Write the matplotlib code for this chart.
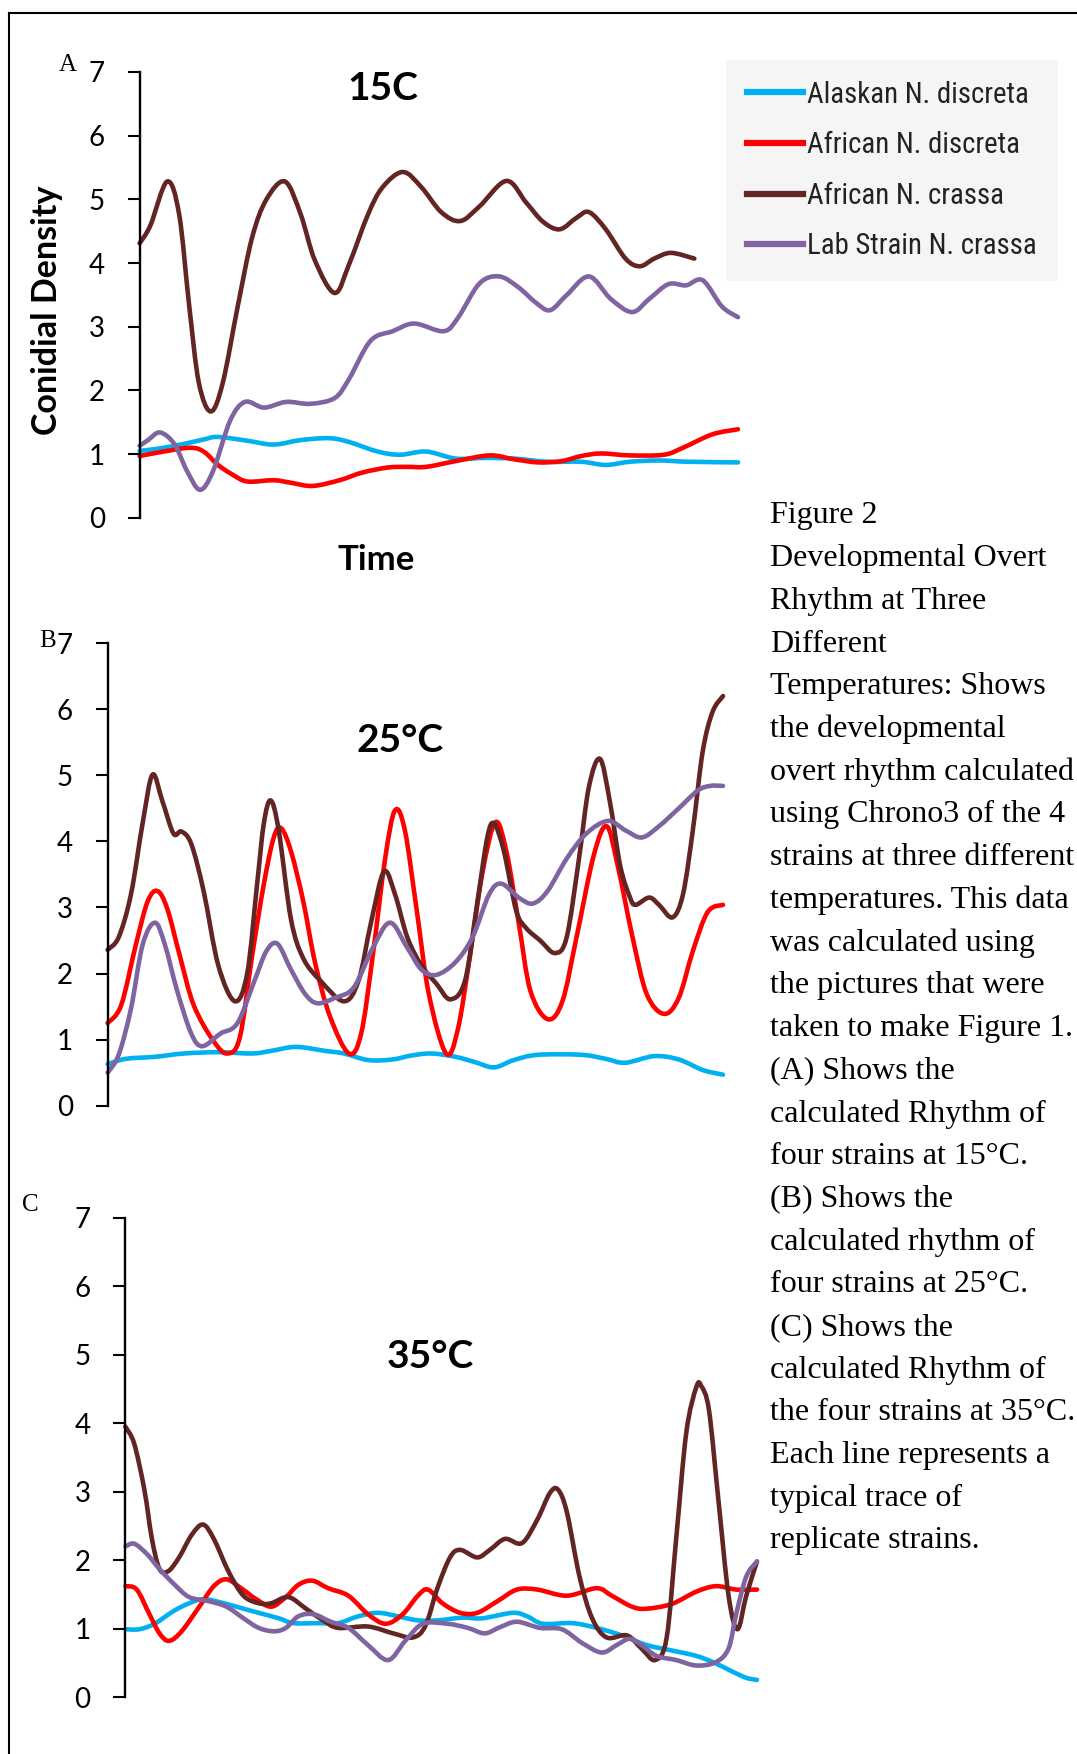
import matplotlib
matplotlib.use('Agg')
import matplotlib.pyplot as plt
from matplotlib import font_manager
from matplotlib.font_manager import FontProperties
from matplotlib.lines import Line2D
from matplotlib.path import Path
from matplotlib.patches import PathPatch
from matplotlib.textpath import TextPath

W, H = 1077, 1754

strains = ['Alaskan N. discreta', 'African N. discreta',
           'African N. crassa', 'Lab Strain N. crassa']
colors = ['#00b0f0', '#ff0000', '#632523', '#8064a2']
titles = ['15C', '25°C', '35°C']
letters = ['A', 'B', 'C']
yticks = [0, 1, 2, 3, 4, 5, 6, 7]

# (time fraction, conidial density)
# --- 15C ---
A_alaskan = [(0, 1.05), (.034, 1.09), (.074, 1.16), (.107, 1.23), (.131, 1.27), (.18, 1.21),
             (.224, 1.15), (.269, 1.22), (.317, 1.25), (.35, 1.19), (.398, 1.04), (.435, 0.99),
             (.479, 1.04), (.528, 0.93), (.577, 0.94), (.625, 0.93), (.682, 0.88), (.738, 0.88),
             (.779, 0.83), (.819, 0.88), (.868, 0.90), (.917, 0.88), (1.0, 0.87)]
A_african_d = [(0, 0.97), (.034, 1.03), (.083, 1.10), (.107, 1.04), (.131, 0.83), (.155, 0.68),
               (.18, 0.57), (.224, 0.59), (.253, 0.55), (.289, 0.50), (.334, 0.59), (.372, 0.71),
               (.415, 0.79), (.447, 0.80), (.479, 0.80), (.528, 0.89), (.585, 0.98), (.625, 0.92),
               (.666, 0.87), (.705, 0.89), (.738, 0.97), (.771, 1.01), (.819, 0.98), (.876, 0.99),
               (.908, 1.10), (.957, 1.31), (1.0, 1.39)]
A_african_c = [(0, 4.31), (.018, 4.59), (.046, 5.28), (.066, 4.77), (.083, 3.32), (.099, 2.12),
               (.119, 1.67), (.139, 2.12), (.164, 3.32), (.188, 4.40), (.212, 5.0), (.243, 5.28),
               (.269, 4.77), (.293, 4.04), (.326, 3.53), (.35, 3.98), (.382, 4.77), (.406, 5.19),
               (.44, 5.43), (.471, 5.19), (.504, 4.80), (.536, 4.66), (.568, 4.89), (.613, 5.29),
               (.646, 4.95), (.674, 4.65), (.702, 4.53), (.73, 4.71), (.751, 4.80), (.779, 4.53),
               (.812, 4.07), (.836, 3.95), (.86, 4.07), (.888, 4.16), (.927, 4.07)]
A_lab = [(0, 1.13), (.014, 1.22), (.034, 1.34), (.058, 1.16), (.079, 0.74), (.101, 0.44),
         (.123, 0.74), (.151, 1.52), (.176, 1.82), (.208, 1.73), (.245, 1.82), (.285, 1.79),
         (.326, 1.88), (.35, 2.18), (.386, 2.78), (.423, 2.93), (.459, 3.05), (.508, 2.93),
         (.532, 3.14), (.568, 3.68), (.601, 3.79), (.633, 3.62), (.662, 3.38), (.686, 3.26),
         (.714, 3.50), (.751, 3.79), (.787, 3.44), (.823, 3.23), (.852, 3.44), (.884, 3.67),
         (.913, 3.65), (.941, 3.73), (.973, 3.32), (1.0, 3.15)]
# --- 25C ---
B_alaskan = [(0, 0.63), (.03, 0.71), (.077, 0.74), (.124, 0.79), (.18, 0.81), (.235, 0.79),
             (.266, 0.83), (.306, 0.89), (.353, 0.83), (.384, 0.79), (.424, 0.69), (.463, 0.70),
             (.494, 0.76), (.526, 0.79), (.565, 0.74), (.597, 0.66), (.628, 0.58), (.66, 0.69),
             (.699, 0.77), (.77, 0.77), (.809, 0.71), (.841, 0.65), (.888, 0.75), (.928, 0.70),
             (.967, 0.54), (1.0, 0.47)]
B_african_d = [(0, 1.25), (.022, 1.52), (.046, 2.44), (.065, 3.09), (.081, 3.25), (.097, 2.98),
               (.117, 2.28), (.14, 1.52), (.172, 0.98), (.195, 0.79), (.215, 1.04), (.235, 2.28),
               (.254, 3.36), (.27, 4.06), (.282, 4.2), (.298, 3.85), (.318, 3.09), (.337, 2.17),
               (.361, 1.36), (.392, 0.79), (.412, 1.09), (.431, 2.28), (.451, 3.74), (.467, 4.47),
               (.483, 4.17), (.502, 2.98), (.522, 1.69), (.55, 0.79), (.569, 1.15), (.589, 2.28),
               (.609, 3.52), (.63, 4.29), (.648, 3.85), (.668, 2.77), (.687, 1.74), (.715, 1.31),
               (.739, 1.58), (.762, 2.55), (.79, 3.79), (.811, 4.23), (.829, 3.63), (.853, 2.55),
               (.876, 1.69), (.904, 1.39), (.928, 1.63), (.951, 2.34), (.975, 2.93), (1.0, 3.04)]
B_african_c = [(0, 2.36), (.018, 2.55), (.038, 3.2), (.057, 4.28), (.073, 5.01), (.089, 4.61),
               (.107, 4.12), (.12, 4.15), (.136, 3.96), (.156, 3.25), (.18, 2.12), (.207, 1.58),
               (.227, 2.01), (.243, 3.36), (.254, 4.28), (.265, 4.62), (.278, 4.17), (.298, 2.82),
               (.318, 2.23), (.345, 1.90), (.384, 1.58), (.408, 1.90), (.428, 2.77), (.449, 3.54),
               (.467, 3.2), (.487, 2.55), (.51, 2.12), (.534, 1.85), (.557, 1.61), (.581, 1.90),
               (.601, 3.09), (.617, 4.06), (.628, 4.27), (.644, 3.85), (.664, 2.95), (.68, 2.69),
               (.703, 2.50), (.727, 2.31), (.746, 2.55), (.766, 3.74), (.782, 4.82), (.8, 5.25),
               (.816, 4.61), (.833, 3.63), (.849, 3.15), (.858, 3.04), (.88, 3.15), (.896, 3.04),
               (.918, 2.85), (.935, 3.2), (.951, 4.17), (.967, 5.36), (.983, 5.96), (1.0, 6.2)]
B_lab = [(0, 0.50), (.018, 0.77), (.038, 1.47), (.057, 2.44), (.077, 2.77), (.093, 2.44),
         (.113, 1.74), (.136, 1.09), (.154, 0.90), (.183, 1.09), (.211, 1.25), (.239, 1.9),
         (.258, 2.34), (.276, 2.45), (.298, 2.06), (.321, 1.69), (.341, 1.55), (.369, 1.63),
         (.4, 1.79), (.431, 2.39), (.459, 2.77), (.487, 2.39), (.51, 2.06), (.534, 1.98),
         (.565, 2.17), (.593, 2.55), (.62, 3.2), (.64, 3.36), (.668, 3.15), (.691, 3.06),
         (.715, 3.25), (.746, 3.74), (.778, 4.12), (.813, 4.31), (.841, 4.17), (.868, 4.06),
         (.896, 4.23), (.928, 4.5), (.959, 4.77), (.979, 4.84), (1.0, 4.84)]
# --- 35C ---
C_alaskan = [(0, 0.99), (.022, 0.99), (.046, 1.07), (.077, 1.26), (.101, 1.37), (.124, 1.43),
             (.156, 1.37), (.187, 1.29), (.211, 1.23), (.243, 1.15), (.266, 1.08), (.306, 1.08),
             (.337, 1.08), (.369, 1.18), (.4, 1.23), (.431, 1.18), (.463, 1.12), (.494, 1.12),
             (.534, 1.16), (.565, 1.15), (.613, 1.23), (.636, 1.18), (.661, 1.07), (.707, 1.08),
             (.746, 1.01), (.786, 0.90), (.825, 0.76), (.865, 0.68), (.904, 0.60), (.935, 0.49),
             (.959, 0.38), (.983, 0.28), (1.0, 0.25)]
C_african_d = [(0, 1.62), (.018, 1.57), (.038, 1.21), (.054, 0.93), (.069, 0.82), (.089, 0.96),
               (.117, 1.32), (.14, 1.62), (.16, 1.72), (.183, 1.59), (.207, 1.43), (.231, 1.32),
               (.254, 1.46), (.274, 1.64), (.296, 1.70), (.321, 1.59), (.353, 1.48), (.384, 1.21),
               (.412, 1.07), (.439, 1.21), (.463, 1.48), (.479, 1.57), (.502, 1.37), (.53, 1.23),
               (.557, 1.23), (.589, 1.40), (.62, 1.57), (.652, 1.57), (.699, 1.48), (.746, 1.59),
               (.77, 1.48), (.802, 1.32), (.825, 1.29), (.865, 1.36), (.904, 1.54), (.935, 1.62),
               (.967, 1.57), (1.0, 1.57)]
C_african_c = [(0, 3.95), (.014, 3.70), (.03, 3.03), (.042, 2.31), (.054, 1.87), (.068, 1.84),
               (.085, 2.04), (.105, 2.37), (.123, 2.52), (.14, 2.31), (.164, 1.82), (.187, 1.48),
               (.211, 1.37), (.231, 1.37), (.258, 1.46), (.286, 1.29), (.313, 1.12), (.337, 1.01),
               (.384, 1.03), (.424, 0.93), (.455, 0.87), (.475, 1.04), (.494, 1.59), (.514, 2.04),
               (.53, 2.15), (.557, 2.04), (.577, 2.15), (.601, 2.31), (.628, 2.25), (.652, 2.59),
               (.672, 2.98), (.685, 3.03), (.699, 2.70), (.719, 1.76), (.739, 1.15), (.762, 0.87),
               (.794, 0.90), (.817, 0.71), (.839, 0.54), (.857, 0.87), (.872, 2.31), (.888, 3.86),
               (.904, 4.53), (.912, 4.54), (.924, 4.19), (.939, 2.87), (.955, 1.48), (.969, 0.99),
               (.983, 1.48), (1.0, 1.98)]
C_lab = [(0, 2.20), (.014, 2.24), (.034, 2.09), (.054, 1.87), (.077, 1.65), (.101, 1.46),
         (.132, 1.40), (.16, 1.32), (.187, 1.15), (.211, 1.01), (.235, 0.96), (.254, 1.01),
         (.274, 1.18), (.298, 1.21), (.325, 1.10), (.353, 1.01), (.384, 0.76), (.416, 0.54),
         (.443, 0.82), (.471, 1.07), (.51, 1.07), (.542, 1.01), (.569, 0.93), (.593, 1.02),
         (.62, 1.10), (.656, 1.01), (.691, 0.99), (.723, 0.79), (.754, 0.65), (.778, 0.76),
         (.798, 0.85), (.817, 0.76), (.841, 0.60), (.872, 0.54), (.904, 0.46), (.935, 0.51),
         (.955, 0.71), (.967, 1.21), (.983, 1.76), (1.0, 1.98)]

panels = [
    [A_alaskan, A_african_d, A_african_c, A_lab],
    [B_alaskan, B_african_d, B_african_c, B_lab],
    [C_alaskan, C_african_d, C_african_c, C_lab],
]

caption = ['Figure 2', 'Developmental Overt', 'Rhythm at Three', 'Different',
           'Temperatures: Shows', 'the developmental', 'overt rhythm calculated',
           'using Chrono3 of the 4', 'strains at three different',
           'temperatures. This data', 'was calculated using', 'the pictures that were',
           'taken to make Figure 1.', '(A) Shows the', 'calculated Rhythm of',
           'four strains at 15°C.', '(B) Shows the', 'calculated rhythm of',
           'four strains at 25°C.', '(C) Shows the', 'calculated Rhythm of',
           'the four strains at 35°C.', 'Each line represents a', 'typical trace of',
           'replicate strains.']

# pixel layout: axis x-left, x-right, y of 0, y of 7
boxes = [(139.6, 738, 517.8, 72), (107.6, 723, 1105.7, 643.2), (125.4, 757, 1697, 1218)]
title_pos = [(383, 88), (400, 741), (430, 1357)]
letter_pos = [(68, 65), (48, 641), (30, 1205)]

names = {f.name for f in font_manager.fontManager.ttflist}
sans = 'Lato' if 'Lato' in names else 'DejaVu Sans'
plt.rcParams['font.family'] = [sans, 'DejaVu Sans']

# legend font: narrowest available, sized so the first label is ~219 px wide
leg_font = 'Liberation Sans'
for cand in ['Roboto Condensed', 'Liberation Sans Narrow', 'Ubuntu Condensed', 'Roboto']:
    if cand in names:
        leg_font = cand
        break
tp = TextPath((0, 0), strains[0], size=10, prop=FontProperties(family=leg_font))
leg_size = min(22.0, 10 * 219 / (tp.get_extents().width * 100 / 72))

fig = plt.figure(figsize=(W / 100, H / 100), dpi=100)


def fx(x):
    return x / W


def fy(y):
    return 1 - y / H


def smooth_path(pts):
    # Excel-style smoothed line: cubic Bezier through every data point
    verts = [pts[0]]
    codes = [Path.MOVETO]
    n = len(pts)
    for i in range(n - 1):
        p0 = pts[max(i - 1, 0)]
        p1 = pts[i]
        p2 = pts[i + 1]
        p3 = pts[min(i + 2, n - 1)]
        c1 = (p1[0] + (p2[0] - p0[0]) / 6, p1[1] + (p2[1] - p0[1]) / 6)
        c2 = (p2[0] - (p3[0] - p1[0]) / 6, p2[1] - (p3[1] - p1[1]) / 6)
        verts += [c1, c2, p2]
        codes += [Path.CURVE4] * 3
    return Path(verts, codes)


for i, series in enumerate(panels):
    l, r, y0, y7 = boxes[i]
    ax = fig.add_axes([fx(l), fy(y0), (r - l) / W, (y0 - y7) / H])
    for k, pts in enumerate(series):
        ax.add_patch(PathPatch(smooth_path(pts), facecolor='none', edgecolor=colors[k],
                               lw=3.3, capstyle='round', joinstyle='round', clip_on=False))
    ax.set_xlim(0, 1)
    ax.set_ylim(0, 7)
    ax.set_yticks(yticks)
    ax.set_xticks([])
    for s in ['top', 'right', 'bottom']:
        ax.spines[s].set_visible(False)
    ax.spines['left'].set_linewidth(1.7)
    ax.tick_params(axis='y', direction='out', length=9, width=1.5, pad=16, labelsize=20)
    ax.patch.set_alpha(0)
    fig.text(fx(title_pos[i][0]), fy(title_pos[i][1]), titles[i], fontsize=28,
             fontweight='bold', ha='center', va='center')
    fig.text(fx(letter_pos[i][0]), fy(letter_pos[i][1]), letters[i], fontsize=18,
             family='Liberation Serif', ha='center', va='center')

fig.text(fx(47), fy(310), 'Conidial Density', rotation=90, fontsize=24.5,
         fontweight='bold', ha='center', va='center')
fig.text(fx(376), fy(560), 'Time', fontsize=25, fontweight='bold', ha='center', va='center')

handles = [Line2D([], [], color=c, lw=4.5) for c in colors]
leg = fig.legend(handles, strains, loc='upper left', bbox_to_anchor=(fx(726), fy(60)),
                 borderaxespad=0, prop={'family': leg_font, 'size': leg_size},
                 handlelength=2.2 * 18.5 / leg_size, handletextpad=0.15,
                 labelspacing=0.88 * 18.5 / leg_size, borderpad=0.8 * 18.5 / leg_size,
                 facecolor='#f5f5f5', edgecolor='none', framealpha=1, fancybox=False)
for txt in leg.get_texts():
    txt.set_color('#222222')

for j, line in enumerate(caption):
    fig.text(fx(770), fy(516 + 42.7 * j), line, fontsize=23, family='Liberation Serif',
             ha='left', va='center')

# outer frame (top and left edges)
fig.add_artist(Line2D([fx(9), 1], [fy(13), fy(13)], color='black', lw=1.5))
fig.add_artist(Line2D([fx(9), fx(9)], [fy(13), 0], color='black', lw=1.5))

fig.savefig('out.png', dpi=100)
